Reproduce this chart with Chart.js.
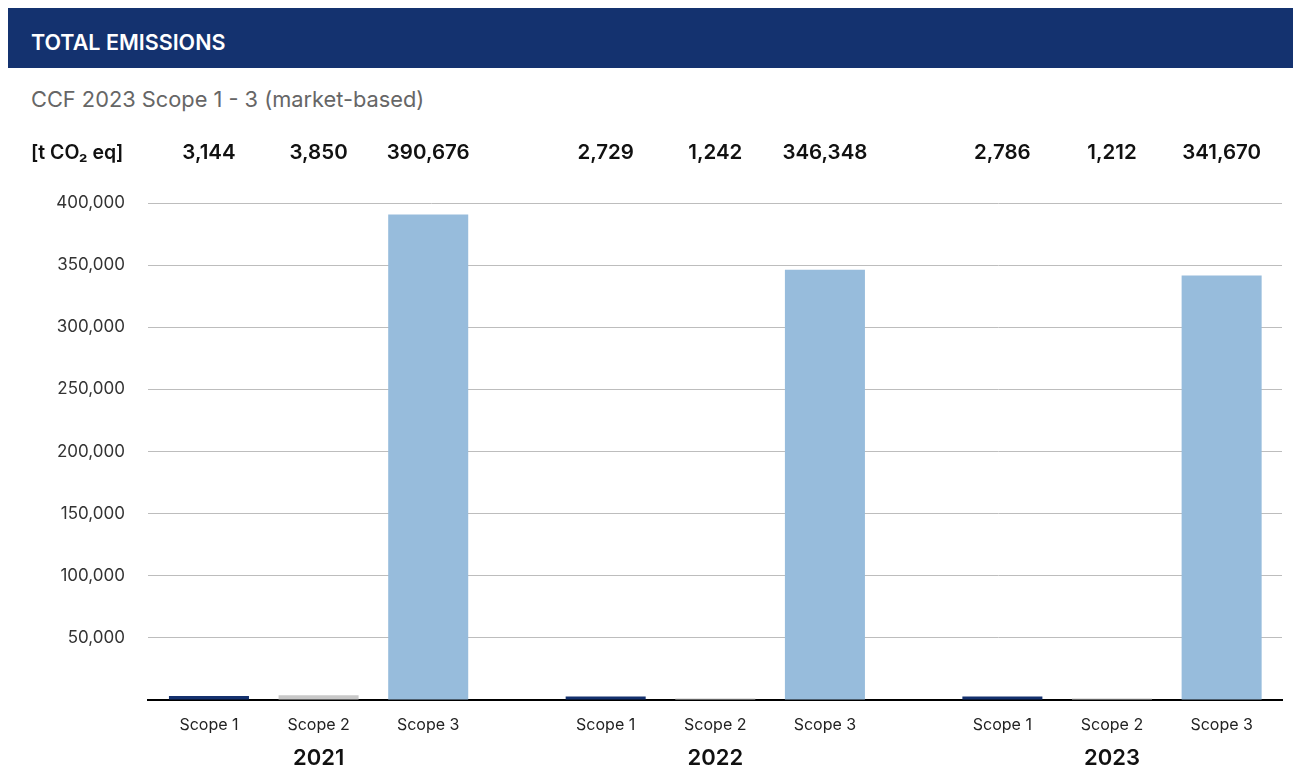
<!DOCTYPE html>
<html>
<head>
<meta charset="utf-8">
<script src="https://cdn.jsdelivr.net/npm/chart.js@4/dist/chart.umd.min.js"></script>
<style>
  html, body { margin: 0; padding: 0; background: #fff; font-family: Inter, "Noto Sans", sans-serif; }
  .header {
    position: absolute; left: 8px; top: 8px; width: 1285px; height: 60px;
    background: #14326f; color: #fff; font-weight: 600; font-size: 21.5px;
    box-sizing: border-box; padding-left: 23px; padding-top: 4px;
    line-height: 60px;
  }
  .subtitle {
    position: absolute; left: 31px; top: 86px; color: #666; font-size: 21.8px; line-height: 26px;
  }
  .chart-box { position: absolute; left: 0; top: 120px; width: 1295px; height: 647px; }
</style>
</head>
<body>
<div class="header">TOTAL EMISSIONS</div>
<div class="subtitle">CCF 2023 Scope 1 - 3 (market-based)</div>
<div class="chart-box"><canvas id="emissionsChart"></canvas></div>

<script>
/* ================================================
   DATA
================================================ */
const years       = [2021, 2022, 2023];
const scopeLabels = ['Scope 1', 'Scope 2', 'Scope 3'];
const scope1      = [3144, 2729, 2786];
const scope2      = [3850, 1242, 1212];
const scope3      = [390676, 346348, 341670];
const yTicks      = [50000, 100000, 150000, 200000, 250000, 300000, 350000, 400000];
const unitLabel   = '[t CO\u2082 eq]';

const scopeColors = ['#14316e', '#c8c8c8', '#97bcdc'];
const FONT = 'Inter, "Noto Sans", sans-serif';

const fmt = v => v.toLocaleString('en-US');

/* ================================================
   LABEL PLUGIN (scope names + value row)
================================================ */
const scopeLabelPlugin = {
  id: 'scopeLabels',
  afterDatasetsDraw(chart) {
    const { ctx } = chart;
    ctx.save();
    ctx.textBaseline = 'middle';

    // unit label
    ctx.textAlign = 'left';
    ctx.fillStyle = '#111';
    ctx.font = `600 19.5px ${FONT}`;
    ctx.fillText(unitLabel, 31, 33);

    chart.data.datasets.forEach((ds, di) => {
      const meta = chart.getDatasetMeta(di);
      meta.data.forEach((bar, i) => {
        ctx.textAlign = 'center';
        ctx.fillStyle = '#111';
        ctx.font = `600 20.5px ${FONT}`;
        ctx.fillText(fmt(ds.data[i].y), bar.x, 33);

        ctx.fillStyle = '#222';
        ctx.font = `400 16px ${FONT}`;
        ctx.fillText(ds.label, bar.x, 605);
      });
    });
    ctx.restore();
  }
};

/* ================================================
   CHART
================================================ */
const seriesValues = [scope1, scope2, scope3];

new Chart(document.getElementById('emissionsChart'), {
  type: 'bar',
  data: {
    datasets: scopeLabels.map((label, si) => ({
      label,
      data: years.map((yr, i) => ({ x: yr, y: seriesValues[si][i] })),
      backgroundColor: scopeColors[si],
      borderWidth: 0,
      categoryPercentage: 0.829,
      barPercentage: 0.73,
    })),
  },
  options: {
    responsive: true,
    maintainAspectRatio: false,
    animation: false,
    layout: { padding: { top: 83, right: 13, left: 0, bottom: 0 } },
    plugins: {
      legend: { display: false },
      tooltip: { enabled: false },
    },
    scales: {
      x: {
        type: 'linear',
        offset: false,
        min: 2020.570,
        max: 2023.4285,
        afterBuildTicks: scale => { scale.ticks = years.map(v => ({ value: v })); },
        afterFit: scale => { scale.height = 67; },
        grid: { display: false, drawTicks: false },
        border: { display: true, color: '#000', width: 2 },
        ticks: {
          padding: 45,
          color: '#111',
          font: { family: FONT, size: 22, weight: '600' },
          callback: v => String(v),
        },
      },
      y: {
        min: 0,
        max: 400000,
        afterBuildTicks: scale => { scale.ticks = [0, ...yTicks].map(v => ({ value: v })); },
        afterFit: scale => { scale.width = 148; },
        grid: {
          drawTicks: false,
          color: c => c.tick.value === 0 ? 'rgba(0,0,0,0)' : '#bdbdbd',
          lineWidth: 1,
        },
        border: { display: false },
        ticks: {
          padding: 23,
          color: '#333',
          font: { family: FONT, size: 17 },
          callback: v => v === 0 ? '' : fmt(v),
        },
      },
    },
  },
  plugins: [scopeLabelPlugin],
});
</script>
</body>
</html>
